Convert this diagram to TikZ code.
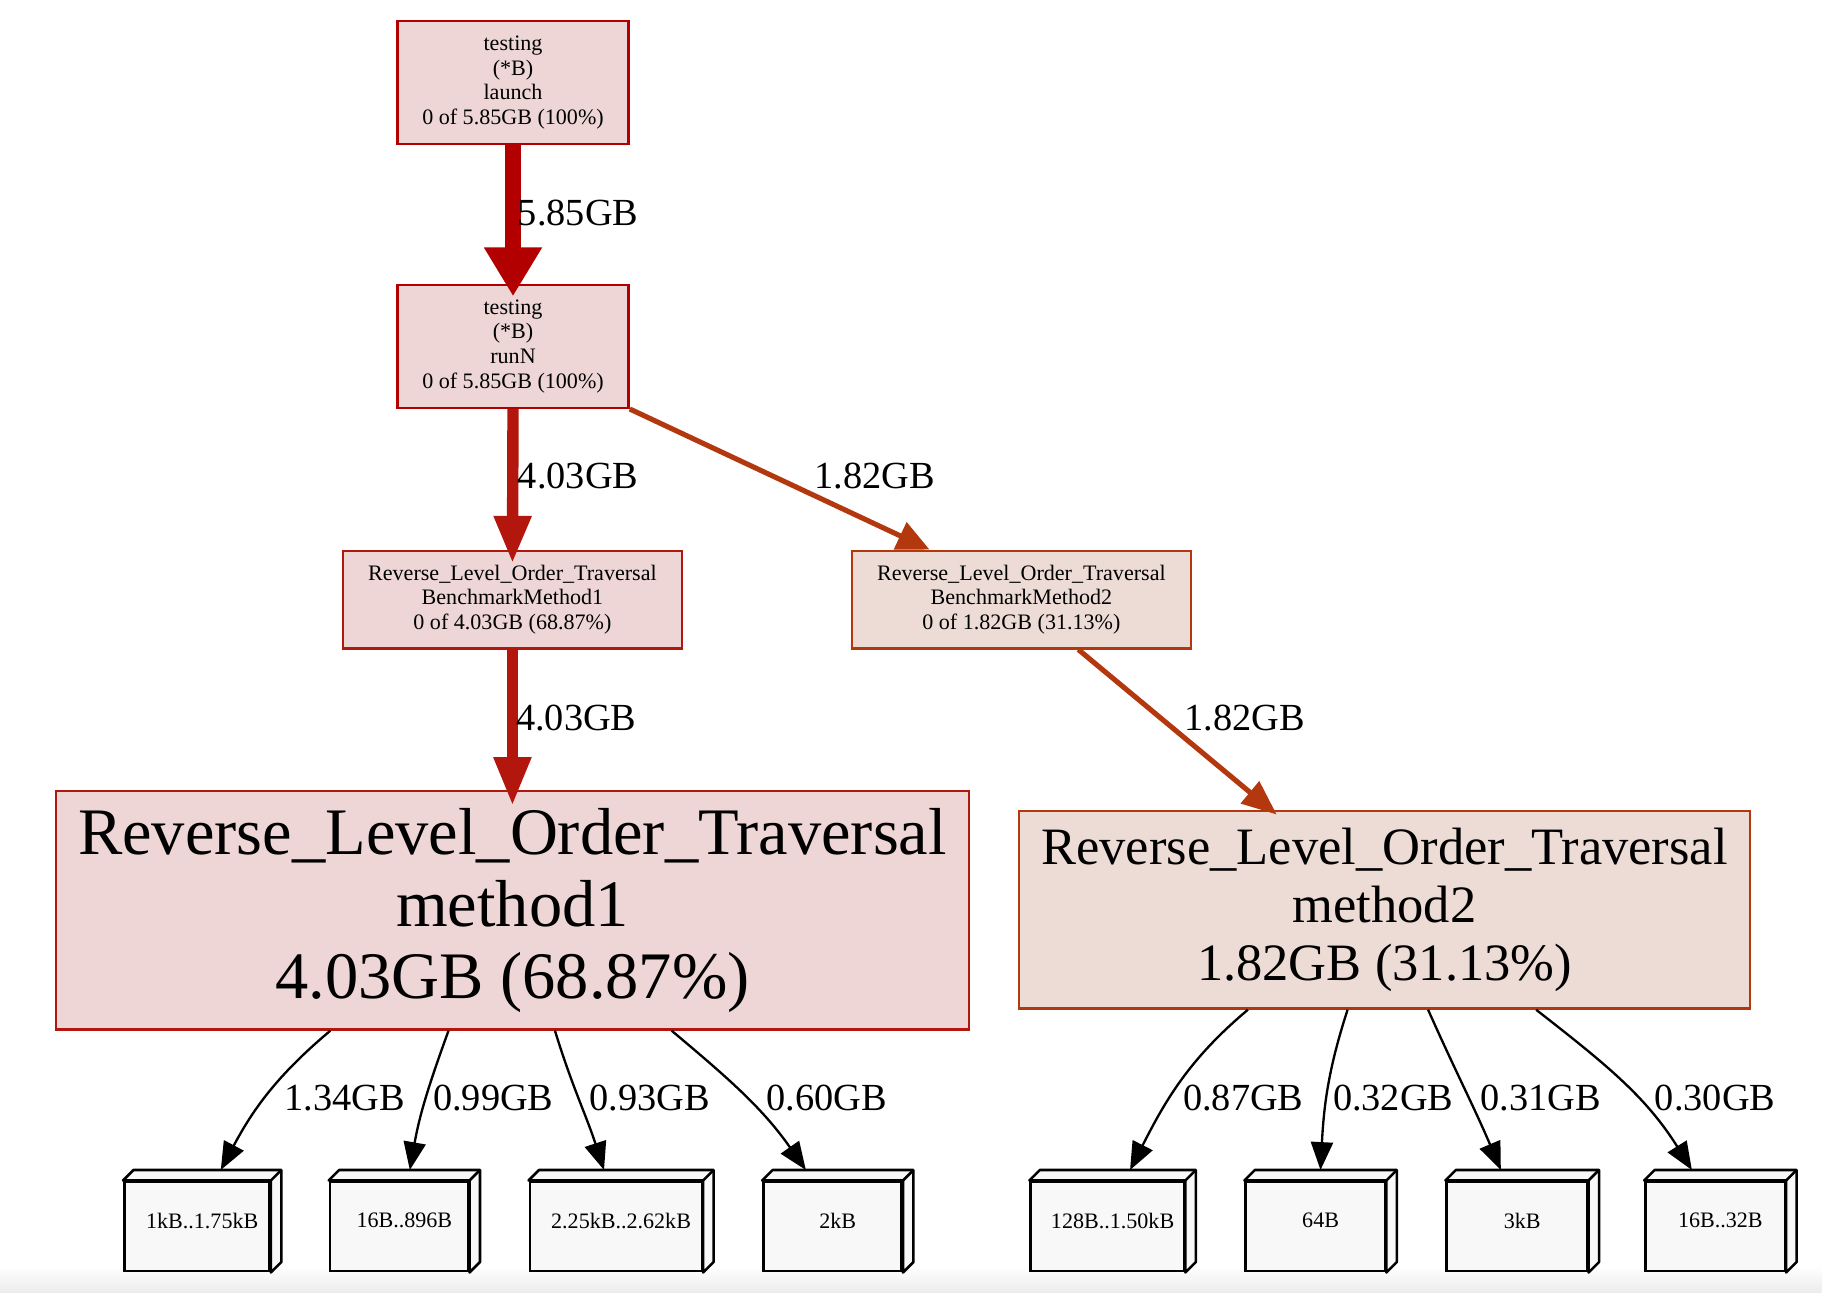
\documentclass[tikz,border=0pt]{standalone}
\usepackage{fontspec}
\setmainfont{Liberation Serif}
\usetikzlibrary{arrows.meta,calc}
\definecolor{cA}{HTML}{B20000}
\definecolor{cB}{HTML}{B3160C}
\definecolor{cC}{HTML}{B3380E}
\definecolor{fA}{HTML}{EDD6D5}
\definecolor{fB}{HTML}{EDDCD5}
\definecolor{boxfill}{HTML}{F8F8F8}
\definecolor{bandgray}{HTML}{ECECEC}
\newcommand\drawthreed[1]{%
  \filldraw[fill=boxfill, draw=black, line width=1.1pt, line join=round]
    (#1.north west) -- ++(4.5pt,4.5pt) -- ([shift={(4.5pt,4.5pt)}]#1.north east)
    -- ([shift={(4.5pt,4.5pt)}]#1.south east) -- (#1.south east) -- (#1.north east) -- cycle;
  \draw[line width=1.1pt] (#1.north east) -- ++(4.5pt,4.5pt);
}
\begin{document}
\begin{tikzpicture}[x=0.5pt,y=0.5pt,
  fn/.style={draw, line width=1pt, inner sep=0pt, align=center},
  smallf/.style={font=\fontsize{9.5}{10.6}\selectfont},
  elab/.style={font=\fontsize{16.5}{18}\selectfont, inner sep=0pt},
  bx/.style={draw=black, fill=boxfill, line width=1.1pt, inner sep=0pt, minimum height=38.5pt},
  blab/.style={font=\fontsize{9.5}{10.6}\selectfont, inner sep=0pt},
  blk/.style={draw=black, line width=1pt, -{Triangle[length=12pt,width=9.5pt]}}
]
\useasboundingbox (0,0) rectangle (1568,1112);
\fill[white] (0,0) rectangle (1568,1112);
\shade[top color=white, bottom color=bandgray] (0,0) rectangle (1568,22);

% nodes
\node[fn, smallf, draw=cA, fill=fA, minimum width=99.5pt, minimum height=53pt] (launch) at (441.5,1041)
  {testing\\(*B)\\launch\\0 of 5.85GB (100\%)};
\node[fn, smallf, draw=cA, fill=fA, minimum width=99.5pt, minimum height=53pt] (runN) at (441.5,814)
  {testing\\(*B)\\runN\\0 of 5.85GB (100\%)};
\node[fn, smallf, draw=cB, fill=fA, minimum width=146pt, minimum height=42pt] (bm1) at (441,596)
  {Reverse\_Level\_Order\_Traversal\\BenchmarkMethod1\\0 of 4.03GB (68.87\%)};
\node[fn, smallf, draw=cC, fill=fB, minimum width=146pt, minimum height=42pt] (bm2) at (879,596)
  {Reverse\_Level\_Order\_Traversal\\BenchmarkMethod2\\0 of 1.82GB (31.13\%)};
\node[fn, draw=cB, fill=fA, minimum width=393pt, minimum height=102.5pt,
  font=\fontsize{28.6}{31}\selectfont] (m1) at (441,328.5)
  {Reverse\_Level\_Order\_Traversal\\method1\\4.03GB (68.87\%)};
\node[fn, draw=cC, fill=fB, minimum width=314.5pt, minimum height=85pt,
  font=\fontsize{22.6}{25}\selectfont] (m2) at (1191.5,329)
  {Reverse\_Level\_Order\_Traversal\\method2\\1.82GB (31.13\%)};

% 3d boxes
\node[bx, minimum width=62.5pt, label={[blab, xshift=2.25pt, yshift=2.5pt]center:1kB..1.75kB}] (b1) at (169.5,56.5) {};
\node[bx, minimum width=59.5pt, label={[blab, xshift=2.25pt, yshift=2.5pt]center:16B..896B}] (b2) at (343.5,56.5) {};
\node[bx, minimum width=74pt, label={[blab, xshift=2.25pt, yshift=2.5pt]center:2.25kB..2.62kB}] (b3) at (530,56.5) {};
\node[bx, minimum width=59.5pt, label={[blab, xshift=2.25pt, yshift=2.5pt]center:2kB}] (b4) at (716.5,56.5) {};
\node[bx, minimum width=66pt, label={[blab, xshift=2.25pt, yshift=2.5pt]center:128B..1.50kB}] (b5) at (953,56.5) {};
\node[bx, minimum width=60pt, label={[blab, xshift=2.25pt, yshift=2.5pt]center:64B}] (b6) at (1132,56.5) {};
\node[bx, minimum width=60.5pt, label={[blab, xshift=2.25pt, yshift=2.5pt]center:3kB}] (b7) at (1305.5,56.5) {};
\node[bx, minimum width=60pt, label={[blab, xshift=2.25pt, yshift=2.5pt]center:16B..32B}] (b8) at (1476,56.5) {};
\foreach \b in {b1,b2,b3,b4,b5,b6,b7,b8} {\drawthreed{\b}}

% heavy edges
\draw[cA, line width=7pt, -{Triangle[length=21pt,width=23.5pt]}] (launch.south) -- ([yshift=-5.5pt]runN.north);
\draw[cB, line width=4.9pt, -{Triangle[length=20.5pt,width=15pt]}] (runN.south) -- ([yshift=-6pt]bm1.north);
\draw[cB, line width=4.9pt, -{Triangle[length=21pt,width=15pt]}] (bm1.south) -- ([yshift=-6.8pt]m1.north);
\draw[cC, line width=2.2pt, -{Triangle[length=14pt,width=12.5pt]}] (runN.south east) -- ([xshift=-39.5pt]bm2.north);
\draw[cC, line width=2.2pt, -{Triangle[length=15pt,width=12pt]}] ([xshift=24.5pt]bm2.south) -- ([xshift=-46.4pt,yshift=-2pt]m2.north);

\node[elab] at (497.5,929) {5.85GB};
\node[elab] at (497.5,702) {4.03GB};
\node[elab] at (753,702) {1.82GB};
\node[elab] at (496,494) {4.03GB};
\node[elab] at (1071,494) {1.82GB};

% black edges
\draw[blk] ([xshift=-78.35pt]m1.south) to[out=220,in=62] ([shift={(10.25pt,4.5pt)}]b1.north);
\draw[blk] ([xshift=-27.5pt]m1.south) to[out=250,in=80] ([shift={(4.6pt,4.5pt)}]b2.north);
\draw[blk] ([xshift=18.3pt]m1.south) to[out=-73,in=108] ([shift={(-5.1pt,4.5pt)}]b3.north);
\draw[blk] ([xshift=68.5pt]m1.south) to[out=-40,in=125] ([shift={(-11.5pt,4.5pt)}]b4.north);
\draw[blk] ([xshift=-58.8pt]m2.south) to[out=220,in=63] ([shift={(9.75pt,4.5pt)}]b5.north);
\draw[blk] ([xshift=-15.9pt]m2.south) to[out=252,in=87] ([shift={(2.2pt,4.5pt)}]b6.north);
\draw[blk] ([xshift=18.75pt]m2.south) to[out=-66,in=113] ([shift={(-6.95pt,4.5pt)}]b7.north);
\draw[blk] ([xshift=65.25pt]m2.south) to[out=-38,in=122] ([shift={(-10pt,4.5pt)}]b8.north);

\node[elab] at (296.5,167) {1.34GB};
\node[elab] at (424.5,167) {0.99GB};
\node[elab] at (559,167) {0.93GB};
\node[elab] at (711.5,167) {0.60GB};
\node[elab] at (1070,167) {0.87GB};
\node[elab] at (1199,167) {0.32GB};
\node[elab] at (1326,167) {0.31GB};
\node[elab] at (1476,167) {0.30GB};
\end{tikzpicture}
\end{document}
